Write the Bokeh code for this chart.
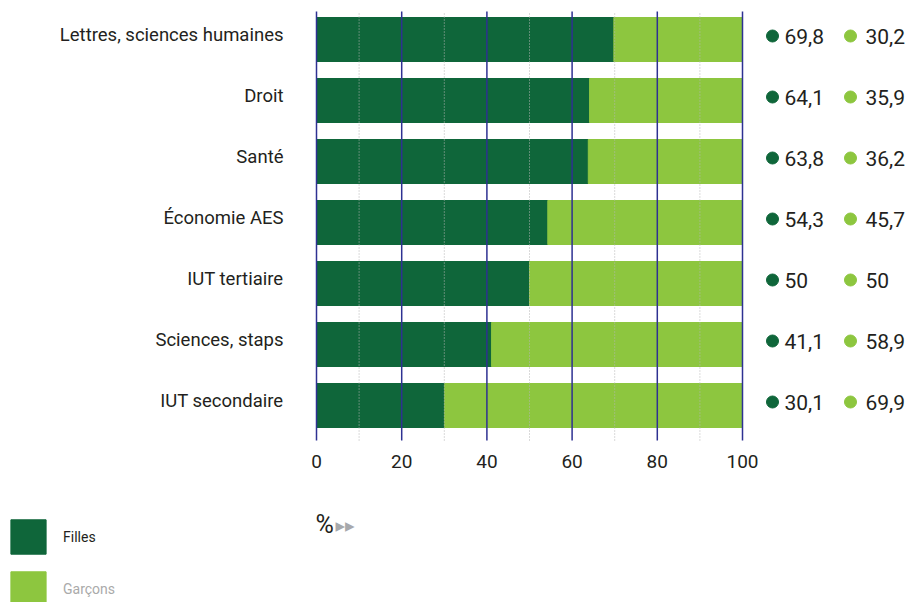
from bokeh.plotting import figure
from bokeh.models import (ColumnDataSource, Range1d, Label, Legend, LegendItem)
from bokeh.embed import file_html
from bokeh.resources import INLINE
from bokeh.core.properties import value

categories = ["Lettres, sciences humaines", "Droit", "Santé", "Économie AES",
              "IUT tertiaire", "Sciences, staps", "IUT secondaire"]
filles = [69.8, 64.1, 63.8, 54.3, 50, 41.1, 30.1]
garcons = [30.2, 35.9, 36.2, 45.7, 50, 58.9, 69.9]
x_ticks = [0, 20, 40, 60, 80, 100]
x_minor = [10, 30, 50, 70, 90]
series_names = ["Filles", "Garçons"]
unit_label = "%"

DARK = "#0f663a"
LIGHT = "#8dc63f"
TEXT = "#231f20"
FONT = "Roboto"

W, H = 906, 602
LEFT = 316      # page x of value 0
BASE = 405      # page y of the last category centre
PITCH = 61.0    # px per category
PX = 4.26       # px per percent

def dx(px):  # page x -> data x
    return (px - LEFT) / PX

def dy(py):  # page y -> data y
    return (BASE - py) / PITCH

n = len(categories)
ypos = [n - 1 - i for i in range(n)]

def fmt(v):
    return f"{v:g}".replace(".", ",")

src = ColumnDataSource(dict(
    y=ypos, f=filles, g=garcons,
    g_left=filles, total=[a + b for a, b in zip(filles, garcons)],
    zero=[0] * n,
    ftxt=[fmt(v) for v in filles], gtxt=[fmt(v) for v in garcons],
    ylab=[y + 3.5 / PITCH for y in ypos],
    ycat=[y + 5 / PITCH for y in ypos],
    cat=categories,
))

p = figure(width=W, height=H, output_backend="svg", toolbar_location=None,
           x_range=Range1d(dx(0), dx(W)), y_range=Range1d(dy(H), dy(0)),
           min_border=0, min_border_left=0, min_border_right=0,
           min_border_top=0, min_border_bottom=0)
p.axis.visible = False
p.grid.visible = False
p.outline_line_color = None

r1 = p.hbar(y="y", left="zero", right="f", height=44 / PITCH, color=DARK, source=src)
r2 = p.hbar(y="y", left="g_left", right="total", height=44 / PITCH, color=LIGHT, source=src)

# vertical grid lines drawn over the bars
g_top, g_bot = dy(11), dy(440)
p.segment(x0=x_minor, x1=x_minor, y0=[g_bot] * len(x_minor), y1=[g_top] * len(x_minor),
          line_color="#b5b5b5", line_width=1, line_dash="1 2")
p.segment(x0=x_ticks, x1=x_ticks, y0=[g_bot] * len(x_ticks), y1=[g_top] * len(x_ticks),
          line_color="#2e3192", line_width=1.5)

# x tick labels
p.text(x=x_ticks, y=[dy(461)] * len(x_ticks), text=[str(t) for t in x_ticks],
       text_font=value(FONT), text_font_size="19px", text_color=TEXT,
       text_align="center", text_baseline="middle")

# category labels
p.text(x=dx(283), y="ycat", text="cat", source=src, text_font=value(FONT),
       text_font_size="18.5px", text_color=TEXT, text_align="right",
       text_baseline="middle")

# value annotations at right
p.scatter(x=dx(772), y="ylab", size=12, color=DARK, source=src)
p.text(x=dx(784), y="ylab", text="ftxt", source=src, text_font=value(FONT),
       text_font_size="21px", text_color=TEXT, text_baseline="middle")
p.scatter(x=dx(850), y="ylab", size=12, color=LIGHT, source=src)
p.text(x=dx(865), y="ylab", text="gtxt", source=src, text_font=value(FONT),
       text_font_size="21px", text_color=TEXT, text_baseline="middle")

# unit label
p.add_layout(Label(x=0, y=dy(524), text=unit_label, text_font=FONT,
                   text_font_size="25px", text_color=TEXT,
                   text_baseline="middle", x_offset=-1))
p.add_layout(Label(x=0, y=dy(524), text="▸▸", text_font="DejaVu Sans",
                   text_font_size="19px", text_color="#a7a9ac",
                   text_baseline="middle", x_offset=19))

# legends (area legend glyphs are inset by 10% on each side)
common = dict(glyph_width=44, glyph_height=43, padding=0, margin=0,
              border_line_color=None, background_fill_alpha=0,
              label_text_font=FONT, label_text_font_size="14px",
              label_standoff=13)
leg1 = Legend(items=[LegendItem(label=series_names[0], renderers=[r1])],
              location=(6, H - 558), label_text_color=TEXT, **common)
leg2 = Legend(items=[LegendItem(label=series_names[1], renderers=[r2])],
              location=(6, H - 610), label_text_color="#aaaaaa", **common)
p.add_layout(leg1)
p.add_layout(leg2)

open("out.html", "w").write(file_html(p, INLINE))
